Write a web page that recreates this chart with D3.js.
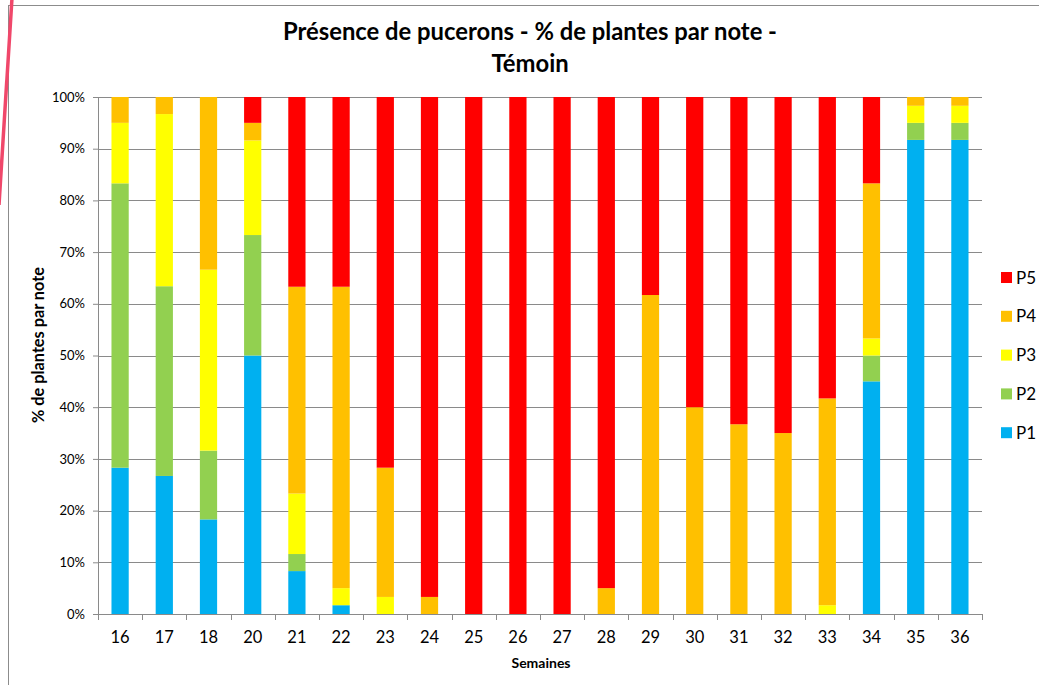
<!DOCTYPE html>
<html>
<head>
<meta charset="utf-8">
<script src="https://cdn.jsdelivr.net/npm/d3@7"></script>
<style>
  body { margin: 0; background: #fff; }
  svg { font-family: Lato, "Liberation Sans", sans-serif; }
</style>
</head>
<body>
<svg id="chart" width="1039" height="685"></svg>
<script>
// weeks (week 19 is missing in the source)
const weeks = ["16", "17", "18", "20", "21", "22", "23", "24", "25", "26", "27", "28", "29", "30", "31", "32", "33", "34", "35", "36"];
const notes = ["P1", "P2", "P3", "P4", "P5"];
// % of plants per note, one array per note, in week order
const p1 = [28.3, 26.7, 18.3, 50.0, 8.3, 1.7, 0, 0, 0, 0, 0, 0, 0, 0, 0, 0, 0, 45.0, 91.7, 91.7];
const p2 = [55.0, 36.7, 13.3, 23.3, 3.3, 0, 0, 0, 0, 0, 0, 0, 0, 0, 0, 0, 0, 5.0, 3.3, 3.3];
const p3 = [11.7, 33.3, 35.0, 18.3, 11.7, 3.3, 3.3, 0, 0, 0, 0, 0, 0, 0, 0, 0, 1.7, 3.3, 3.3, 3.3];
const p4 = [5.0, 3.3, 33.4, 3.4, 40.0, 58.3, 25.0, 3.3, 0, 0, 0, 5.0, 61.7, 40.0, 36.7, 35.0, 40.0, 30.0, 1.7, 1.7];
const p5 = [0, 0, 0, 5.0, 36.7, 36.7, 71.7, 96.7, 100, 100, 100, 95.0, 38.3, 60.0, 63.3, 65.0, 58.3, 16.7, 0, 0];
const yTicks = [0, 10, 20, 30, 40, 50, 60, 70, 80, 90, 100];
const colors = { P1: "#00B0F0", P2: "#92D050", P3: "#FFFF00", P4: "#FFC000", P5: "#FF0000" };

const series = [p1, p2, p3, p4, p5];
const table = weeks.map((w, i) => {
  const row = { week: w };
  notes.forEach((n, j) => row[n] = series[j][i]);
  return row;
});

const svg = d3.select("#chart");
const margin = { top: 97, right: 57, bottom: 71, left: 98 };
const width = 1039 - margin.left - margin.right;
const height = 685 - margin.top - margin.bottom;

// outer frame + decorative stroke on the left
svg.append("rect").attr("x", 8.5).attr("y", 5.5).attr("width", 1040).attr("height", 690)
  .attr("fill", "none").attr("stroke", "#8c8c8c").attr("stroke-width", 1);
svg.append("line").attr("x1", 12).attr("y1", -2).attr("x2", -1).attr("y2", 205)
  .attr("stroke", "#f0476a").attr("stroke-width", 3.5);

const g = svg.append("g").attr("transform", "translate(" + margin.left + "," + margin.top + ")");

const x = d3.scaleBand().domain(weeks).range([0, width]).paddingInner(0.61).paddingOuter(0.305);
const y = d3.scaleLinear().domain([0, 100]).range([height, 0]);

// gridlines
g.append("g").selectAll("line").data(yTicks).enter().append("line")
  .attr("x1", 0).attr("x2", width)
  .attr("y1", d => Math.round(y(d)) + 0.5).attr("y2", d => Math.round(y(d)) + 0.5)
  .attr("stroke", "#8a8a8a").attr("stroke-width", 1);

// stacked bars
const stack = d3.stack().keys(notes)(table);
g.selectAll(".serie").data(stack).enter().append("g")
  .attr("fill", d => colors[d.key])
  .selectAll("rect").data(d => d).enter().append("rect")
  .attr("x", d => x(d.data.week))
  .attr("y", d => y(d[1]))
  .attr("width", x.bandwidth())
  .attr("height", d => y(d[0]) - y(d[1]));

// y axis
const yAxis = g.append("g")
  .call(d3.axisLeft(y).tickValues(yTicks).tickFormat(d => d + "%").tickSize(5).tickPadding(8));
yAxis.selectAll("line, path").attr("stroke", "#8a8a8a");
yAxis.selectAll("text").attr("font-size", 13).attr("fill", "#000").attr("font-family", "Lato");

// x axis, tick marks between categories
const xAxis = g.append("g").attr("transform", "translate(0," + height + ")")
  .call(d3.axisBottom(x).tickSize(0).tickPadding(17));
xAxis.select("path").attr("stroke", "#8a8a8a");
xAxis.selectAll("text").attr("font-size", 16.5).attr("fill", "#000").attr("font-family", "Lato");
const step = x.step();
xAxis.selectAll(".sep").data(d3.range(weeks.length + 1)).enter().append("line")
  .attr("x1", i => Math.round(i * step) + 0.5).attr("x2", i => Math.round(i * step) + 0.5)
  .attr("y1", 0).attr("y2", 6).attr("stroke", "#8a8a8a");

// titles
const title = svg.append("text").attr("text-anchor", "middle").attr("font-weight", "bold")
  .attr("font-size", 23.8).attr("fill", "#000");
title.append("tspan").attr("x", 530).attr("y", 40).text("Présence de pucerons - % de plantes par note -");
title.append("tspan").attr("x", 530).attr("y", 72).text("Témoin");

svg.append("text").attr("transform", "translate(44,345) rotate(-90)")
  .attr("text-anchor", "middle").attr("font-weight", "bold").attr("font-size", 16.3)
  .text("% de plantes par note");

svg.append("text").attr("x", 541).attr("y", 668)
  .attr("text-anchor", "middle").attr("font-weight", "bold").attr("font-size", 14)
  .text("Semaines");

// legend
const legend = svg.append("g").selectAll("g").data(notes.slice().reverse()).enter().append("g")
  .attr("transform", (d, i) => "translate(1001," + (272 + i * 38.8) + ")");
legend.append("rect").attr("width", 11).attr("height", 11).attr("fill", d => colors[d]);
legend.append("text").attr("x", 15).attr("y", 11.5).attr("font-size", 17).text(d => d);
</script>
</body>
</html>
